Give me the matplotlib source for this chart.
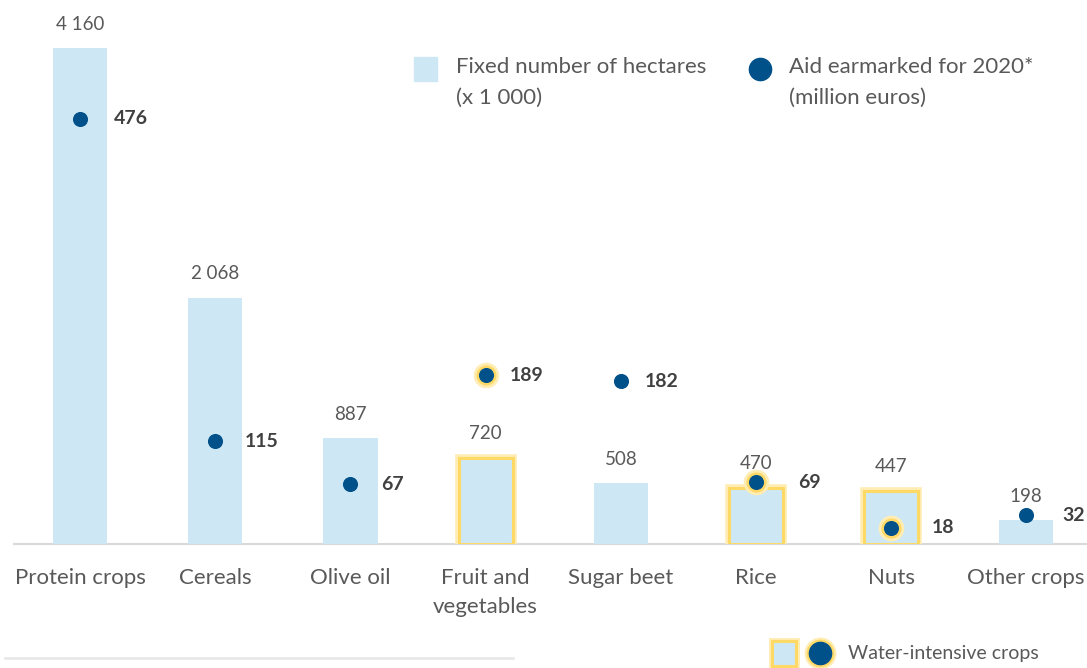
import numpy as np
import matplotlib.pyplot as plt
from matplotlib.patches import Rectangle
from matplotlib.lines import Line2D
import matplotlib.patheffects as pe

plt.rcParams['font.family'] = ['Lato', 'DejaVu Sans']

# data
crops = ['Protein crops', 'Cereals', 'Olive oil', 'Fruit and\nvegetables',
         'Sugar beet', 'Rice', 'Nuts', 'Other crops']
hectares = [4160, 2068, 887, 720, 508, 470, 447, 198]
aid = [476, 115, 67, 189, 182, 69, 18, 32]
water_intensive = [False, False, False, True, False, True, True, False]

# layout: distance (px) from dot to its bold label
label_dx = [34, 29, 31, 24, 24, 42, 41, 36]

bar_col = '#CDE8F4'
dot_col = '#00508A'
glow_col = '#FFD966'
glow_soft = '#FFEDB5'
txt_col = '#595959'

W, H = 1087, 668
fig = plt.figure(figsize=(W / 100, H / 100), dpi=100)
ax = fig.add_axes([14 / W, 124 / H, (W - 14) / W, 536 / H])
ax2 = ax.twinx()

x = np.arange(len(crops))
ax.set_xlim(-0.49, 7.45)
ax.set_ylim(0, 4500)
ax2.set_ylim(0, 600)

for i in x:
    if water_intensive[i]:
        ax.bar(i, hectares[i], width=0.4, color=bar_col, edgecolor=glow_col, linewidth=2.2,
               path_effects=[pe.withStroke(linewidth=5.5, foreground=glow_soft), pe.Normal()],
               zorder=2)
    else:
        ax.bar(i, hectares[i], width=0.4, color=bar_col, zorder=2)
    ax.annotate(f'{hectares[i]:,}'.replace(',', ' '), (i, hectares[i]),
                xytext=(0, 17.5), textcoords='offset points', ha='center', va='center',
                fontsize=13.5, color=txt_col)

for i in x:
    if water_intensive[i]:
        ax2.scatter(i, aid[i], s=340, color=glow_soft, zorder=3, linewidths=0)
        ax2.scatter(i, aid[i], s=210, color=glow_col, zorder=3, linewidths=0)
    ax2.scatter(i, aid[i], s=118, color=dot_col, zorder=4, linewidths=0)
    ax2.annotate(str(aid[i]), (i, aid[i]), xytext=(label_dx[i] * 0.72, 0),
                 textcoords='offset points', ha='left', va='center',
                 fontsize=14, fontweight='bold', color='#404040')

for a in (ax, ax2):
    for s in a.spines.values():
        s.set_visible(False)
    a.set_yticks([])
ax.axhline(0, color='#D9D9D9', linewidth=1.5, zorder=1, clip_on=False)
ax.set_xticks(x)
ax.set_xticklabels(crops, fontsize=16, color=txt_col, linespacing=1.6, va='top')
ax.tick_params(axis='x', length=0, pad=17)

# legend top
fig.add_artist(Rectangle((414 / W, 1 - 81 / H), 23 / W, 24 / H, transform=fig.transFigure,
                         color=bar_col))
fig.text(456 / W, 1 - 57 / H, 'Fixed number of hectares\n(x 1 000)', ha='left', va='top',
         fontsize=16, color=txt_col, linespacing=1.65)
fig.add_artist(Line2D([760 / W], [1 - 69 / H], marker='o', markersize=16, color=dot_col,
                      transform=fig.transFigure))
fig.text(789 / W, 1 - 57 / H, 'Aid earmarked for 2020*\n(million euros)', ha='left', va='top',
         fontsize=16, color=txt_col, linespacing=1.65)

# legend bottom
fig.add_artist(Rectangle((772 / W, 1 - 666 / H), 24 / W, 25 / H, transform=fig.transFigure,
                         facecolor=bar_col, edgecolor=glow_col, linewidth=2.2,
                         path_effects=[pe.withStroke(linewidth=5, foreground=glow_soft), pe.Normal()]))
fig.add_artist(Line2D([820 / W], [1 - 653 / H], marker='o', markersize=22, color=glow_soft,
                      transform=fig.transFigure))
fig.add_artist(Line2D([820 / W], [1 - 653 / H], marker='o', markersize=19, color=glow_col,
                      transform=fig.transFigure))
fig.add_artist(Line2D([820 / W], [1 - 653 / H], marker='o', markersize=16, color=dot_col,
                      transform=fig.transFigure))
fig.text(848 / W, 1 - 653 / H, 'Water-intensive crops', ha='left', va='center',
         fontsize=14, color=txt_col)

# separator line bottom left
fig.add_artist(Line2D([5 / W, 513 / W], [1 - 658 / H, 1 - 658 / H], color='#E6E6E6',
                      linewidth=1.8, transform=fig.transFigure))

fig.savefig('out.png', dpi=100)
